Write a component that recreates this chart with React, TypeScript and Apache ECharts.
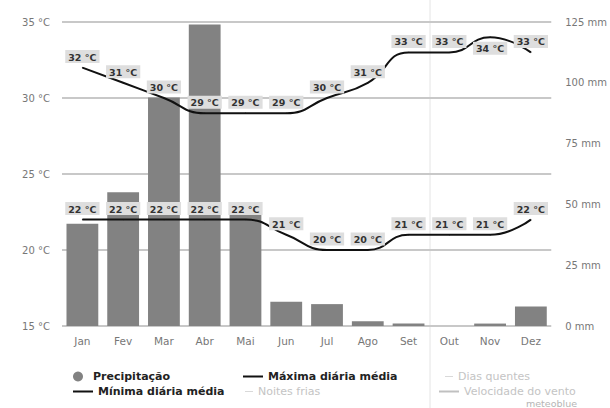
import React, { useEffect, useRef } from "react";
import * as echarts from "echarts";

const months = ["Jan", "Fev", "Mar", "Abr", "Mai", "Jun", "Jul", "Ago", "Set", "Out", "Nov", "Dez"];
const precipitation = [42, 55, 94, 124, 47, 10, 9, 2, 1, 0, 1, 8];
const maxTemp = [32, 31, 30, 29, 29, 29, 30, 31, 33, 33, 34, 33];
const minTemp = [22, 22, 22, 22, 22, 21, 20, 20, 21, 21, 21, 22];
const tempTicks = [15, 20, 25, 30, 35];
const precTicks = [0, 25, 50, 75, 100, 125];

const FONT = "'DejaVu Sans', sans-serif";
const lineIcon = "path://M0 0H20V2H0Z";

export default function App() {
  const ref = useRef<HTMLDivElement>(null);
  useEffect(() => {
    if (!ref.current) return;
    const chart = echarts.init(ref.current, null, { renderer: "svg" });
    const labelStyle = {
      show: true,
      position: "top" as const,
      distance: 4,
      formatter: (p: any) => `${p.value} °C`,
      fontFamily: FONT,
      fontSize: 9.5,
      fontWeight: "bold" as const,
      color: "#333",
      backgroundColor: "#dedede",
      padding: [2, 3, 1, 3],
    };
    const leg = (name: string, left: number, top: number, icon: string, w: number, text: any) => ({
      left,
      top,
      itemWidth: w,
      itemHeight: 10,
      itemGap: 5,
      textStyle: { fontFamily: FONT, fontSize: 11, ...text },
      data: [{ name, icon }],
    });
    const bold = { fontWeight: "bold", color: "#222" };
    const faint = { color: "#c4c4c4" };
    chart.setOption({
      animation: false,
      backgroundColor: "#fff",
      grid: { left: 62, right: 57, top: 22, bottom: 82 },
      xAxis: {
        type: "category",
        data: months,
        axisLine: { show: false },
        axisTick: { show: false },
        axisLabel: { color: "#777", fontFamily: FONT, fontSize: 10.5, margin: 9 },
      },
      yAxis: [
        {
          type: "value",
          min: tempTicks[0],
          max: tempTicks[tempTicks.length - 1],
          interval: 5,
          axisLabel: { formatter: "{value} °C", color: "#777", fontFamily: FONT, fontSize: 10, margin: 12 },
          axisLine: { show: false },
          axisTick: { show: false },
          splitLine: { lineStyle: { color: "#c8c8c8", width: 2 } },
        },
        {
          type: "value",
          min: precTicks[0],
          max: precTicks[precTicks.length - 1],
          interval: 25,
          position: "right",
          axisLabel: { formatter: "{value} mm", color: "#777", fontFamily: FONT, fontSize: 10, margin: 14 },
          axisLine: { show: false },
          axisTick: { show: false },
          splitLine: { show: false },
        },
      ],
      legend: [
        leg("Precipitação", 68, 366, "circle", 20, bold),
        leg("Mínima diária média", 68, 381, lineIcon, 20, bold),
        leg("Máxima diária média", 238, 366, lineIcon, 20, bold),
        leg("Noites frias", 240, 381, lineIcon, 8, faint),
        leg("Dias quentes", 440, 366, lineIcon, 8, faint),
        leg("Velocidade do vento", 434, 381, lineIcon, 20, faint),
      ],
      graphic: [
        {
          type: "line",
          shape: { x1: 430, y1: 0, x2: 430, y2: 408 },
          style: { stroke: "#e4e4e4", lineWidth: 1 },
          silent: true,
        },
        {
          type: "text",
          left: 526,
          top: 398,
          style: { text: "meteoblue", fill: "#b5b5b5", font: `9.5px ${FONT}` },
        },
      ],
      series: [
        {
          name: "Precipitação",
          type: "bar",
          yAxisIndex: 1,
          data: precipitation,
          barCategoryGap: "22%",
          itemStyle: { color: "#828282" },
        },
        {
          name: "Máxima diária média",
          type: "line",
          data: maxTemp.map((v, i) =>
            i === 10 ? { value: v, label: { position: "bottom" } } : v
          ),
          smooth: true,
          showSymbol: true,
          symbol: "circle",
          symbolSize: 1,
          lineStyle: { color: "#111", width: 2 },
          itemStyle: { color: "#111" },
          label: labelStyle,
          labelLayout: { hideOverlap: false },
          z: 5,
        },
        {
          name: "Mínima diária média",
          type: "line",
          data: minTemp,
          smooth: true,
          showSymbol: true,
          symbol: "circle",
          symbolSize: 1,
          lineStyle: { color: "#111", width: 2 },
          itemStyle: { color: "#111" },
          label: labelStyle,
          z: 5,
        },
        { name: "Noites frias", type: "line", data: [], itemStyle: { color: "#d0d0d0" }, lineStyle: { color: "#d0d0d0" } },
        { name: "Dias quentes", type: "line", data: [], itemStyle: { color: "#d0d0d0" }, lineStyle: { color: "#d0d0d0" } },
        { name: "Velocidade do vento", type: "line", data: [], itemStyle: { color: "#c0c0c0" }, lineStyle: { color: "#c0c0c0" } },
      ],
    });
    return () => chart.dispose();
  }, []);
  return <div ref={ref} style={{ width: 610, height: 408, position: "absolute", left: 0, top: 0 }} />;
}
